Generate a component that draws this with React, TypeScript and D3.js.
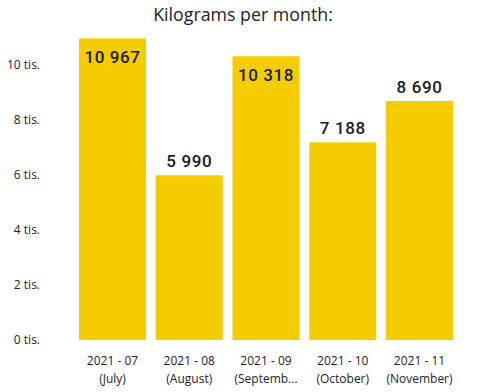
import React from 'react';
import * as d3 from 'd3';

const months = ['2021 - 07', '2021 - 08', '2021 - 09', '2021 - 10', '2021 - 11'];
const monthNames = ['(July)', '(August)', '(Septemb...', '(October)', '(November)'];
const kilograms = [10967, 5990, 10318, 7188, 8690];
const yTicks = [0, 2000, 4000, 6000, 8000, 10000];

const width = 482;
const height = 392;
const font = '"Segoe UI", "Open Sans", "Noto Sans", sans-serif';

const fmt = (v: number) => d3.format(',')(v).replace(/,/g, ' ');

export default function App() {
  const x = d3.scaleBand<string>()
    .domain(months)
    .range([79, 453])
    .paddingInner(0.127)
    .paddingOuter(0);

  const y = d3.scaleLinear()
    .domain([0, 10000])
    .range([340, 65]);

  return (
    <svg width={width} height={height}
      style={{ position: 'absolute', top: 0, left: 0, background: '#fff' }}
      fontFamily={font}>
      <text x={243} y={21} textAnchor="middle" fontSize={17.8} fill="#252423">
        Kilograms per month:
      </text>

      {yTicks.map(t => (
        <text key={t} x={40} y={y(t)} dy="0.35em" textAnchor="end" fontSize={12} fill="#252423">
          {t / 1000} tis.
        </text>
      ))}

      {months.map((m, i) => {
        const v = kilograms[i];
        const bx = x(m)!;
        const top = y(v);
        const inside = v > 10000;
        return (
          <g key={m}>
            <rect x={bx} y={top} width={x.bandwidth()} height={y(0) - top} fill="#F5CC00" />
            <text x={bx + x.bandwidth() / 2} y={inside ? top + 25 : top - 8}
              textAnchor="middle" fontFamily="Roboto, sans-serif" fontSize={17} fontWeight={500}
              letterSpacing={0.6} fill="#1a1a1a">
              {fmt(v)}
            </text>
            <text x={bx + x.bandwidth() / 2} y={365} textAnchor="middle" fontSize={12} fill="#252423">
              {m}
            </text>
            <text x={bx + x.bandwidth() / 2} y={383} textAnchor="middle" fontSize={12} fill="#252423">
              {monthNames[i]}
            </text>
          </g>
        );
      })}
    </svg>
  );
}
